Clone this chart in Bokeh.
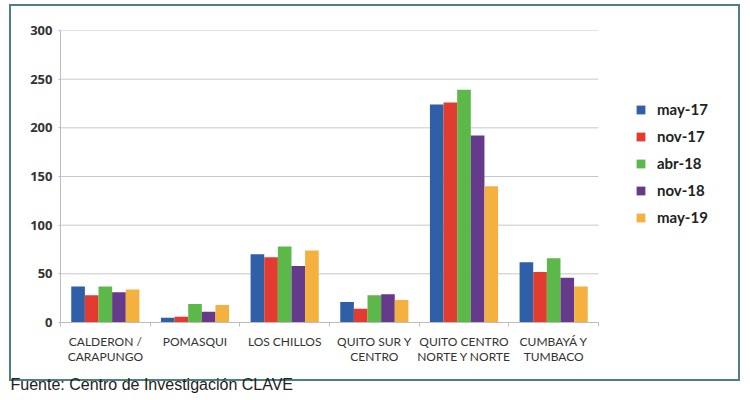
from bokeh.plotting import figure
from bokeh.models import (Range1d, LinearAxis, FixedTicker, Legend, LegendItem,
                          Title, ColumnDataSource)
from bokeh.transform import dodge
from bokeh.embed import file_html
from bokeh.resources import INLINE

categories = ["CALDERON /\nCARAPUNGO", "POMASQUI", "LOS CHILLOS", "QUITO SUR Y\nCENTRO",
              "QUITO CENTRO\nNORTE Y NORTE", "CUMBAYÁ Y\nTUMBACO"]
series = ["may-17", "nov-17", "abr-18", "nov-18", "may-19"]
may17 = [37, 5, 70, 21, 224, 62]
nov17 = [28, 6, 67, 14, 226, 52]
abr18 = [37, 19, 78, 28, 239, 66]
nov18 = [31, 11, 58, 29, 192, 46]
may19 = [34, 18, 74, 23, 140, 37]
colors = ["#2F5FA7", "#E23B2F", "#5CB849", "#663A8B", "#F4B13F"]
y_ticks = [0, 50, 100, 150, 200, 250, 300]
source_text = "Fuente: Centro de Investigación CLAVE"

n = len(categories)
centers = [i + 0.5 for i in range(n)]
bounds = list(range(n + 1))
values = [may17, nov17, abr18, nov18, may19]
data = {"pos": centers, "cat": categories}
for s, v in zip(series, values):
    data[s] = v
src = ColumnDataSource(data)

frame_col = "#4F7F80"
grad = f"linear-gradient({frame_col},{frame_col})"
box_styles = {
    "background-image": ", ".join([grad] * 4),
    "background-size": "731px 2px, 731px 2px, 2px 377px, 2px 377px",
    "background-position": "9px 4px, 9px 379px, 9px 4px, 738px 4px",
    "background-repeat": "no-repeat",
}

# frame spans to the right edge of the box; the category area occupies px 60..598
left_px, cat_right_px, frame_right_px = 60, 598, 739
x_end = n * (frame_right_px - left_px) / (cat_right_px - left_px)

p = figure(width=750, height=400, x_range=Range1d(0, x_end),
           y_range=Range1d(0, 300), x_axis_location=None, output_backend="svg",
           toolbar_location=None, min_border_left=left_px, min_border_right=750 - frame_right_px,
           min_border_top=30, min_border_bottom=78, styles=box_styles)
p.outline_line_color = None
p.background_fill_color = None
p.border_fill_color = None

# horizontal grid lines limited to the category area
p.xgrid.visible = False
p.ygrid.visible = False
p.segment(x0=0, x1=n, y0=y_ticks, y1=y_ticks, line_color="#c8c8c8", line_width=1,
          level="underlay")

bw = 0.152
renderers = []
for i, (s, c) in enumerate(zip(series, colors)):
    r = p.vbar(x=dodge("pos", (i - 2) * bw), top=s, width=bw, source=src,
               fill_color=c, line_color=None)
    renderers.append(r)

# y axis
ya = p.yaxis[0]
ya.ticker = FixedTicker(ticks=y_ticks)
ya.axis_line_color = "#bdbdbd"
ya.major_tick_line_color = "#bdbdbd"
ya.major_tick_out = 2
ya.major_tick_in = 0
ya.minor_tick_line_color = None
ya.major_label_standoff = 6
ya.major_label_text_font = "Open Sans"
ya.major_label_text_font_style = "bold"
ya.major_label_text_font_size = "13px"
ya.major_label_text_color = "#333333"

# x axis with boundary ticks and centered labels
xa = LinearAxis(ticker=FixedTicker(ticks=centers, minor_ticks=bounds),
                major_label_overrides={c: lab for c, lab in zip(centers, categories)},
                bounds=(0, n))
xa.axis_line_color = "#bdbdbd"
xa.major_tick_line_color = None
xa.major_tick_out = 0
xa.major_tick_in = 0
xa.minor_tick_line_color = "#bdbdbd"
xa.minor_tick_out = 4
xa.minor_tick_in = 0
xa.major_label_standoff = 7
xa.major_label_text_font = "Lato"
xa.major_label_text_font_size = "12px"
xa.major_label_text_line_height = 1.0
xa.major_label_text_color = "#333333"
p.add_layout(xa, "below")

p.add_layout(Title(text=source_text, align="left", offset=-50, standoff=15,
                   text_font="Liberation Sans", text_font_size="16px",
                   text_font_style="normal", text_color="#222222"), "below")

legend = Legend(items=[LegendItem(label=s, renderers=[r]) for s, r in zip(series, renderers)],
                location=(575, 96), padding=0, spacing=9, glyph_width=11, glyph_height=11,
                label_height=11, label_standoff=11, label_text_font="Lato",
                label_text_font_style="bold", label_text_font_size="15px",
                label_text_color="#222222", border_line_color=None,
                background_fill_alpha=0)
p.add_layout(legend, "center")

open("out.html", "w").write(file_html(p, INLINE))
